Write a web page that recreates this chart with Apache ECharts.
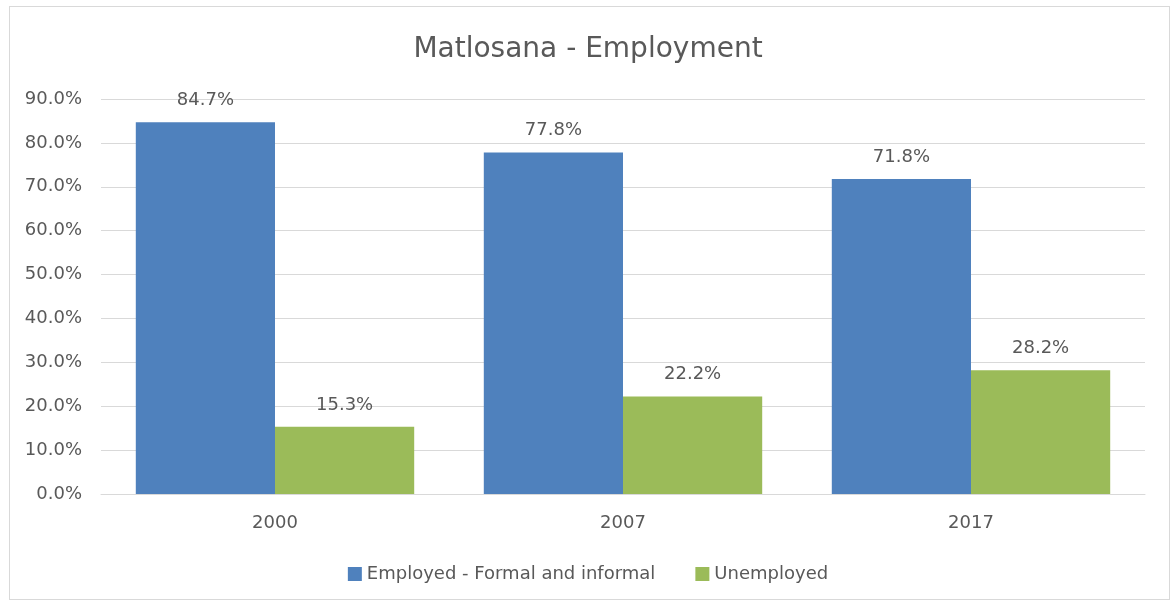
<!DOCTYPE html>
<html>
<head>
<meta charset="utf-8">
<script src="https://cdn.jsdelivr.net/npm/echarts@6/dist/echarts.min.js"></script>
<style>
  html, body { margin: 0; padding: 0; background: #fff; }
  #frame {
    position: absolute; left: 9px; top: 6px; width: 1159px; height: 592px;
    border: 1.5px solid #d9d9d9;
  }
  #chart { position: absolute; left: 0; top: 0; width: 1176px; height: 605px; }
</style>
</head>
<body>
<div id="frame"></div>
<div id="chart"></div>
<script>
const years = ['2000', '2007', '2017'];
const employed = [84.7, 77.8, 71.8];
const unemployed = [15.3, 22.2, 28.2];
const seriesNames = ['Employed - Formal and informal', 'Unemployed'];

const font = '"DejaVu Sans", sans-serif';
const textColor = '#595959';

const chart = echarts.init(document.getElementById('chart'));

const labelStyle = {
  show: true,
  position: 'top',
  distance: 13,
  color: textColor,
  fontFamily: font,
  fontSize: 18,
  formatter: (p) => p.value.toFixed(1) + '%',
};

chart.setOption({
  backgroundColor: 'transparent',
  animation: false,
  title: {
    text: 'Matlosana - Employment',
    left: 'center',
    top: 31,
    textStyle: { color: textColor, fontFamily: font, fontSize: 28, fontWeight: 'normal' },
  },
  legend: {
    data: seriesNames,
    bottom: 17,
    left: 'center',
    itemWidth: 14,
    itemHeight: 14,
    itemGap: 40,
    icon: 'rect',
    textStyle: { color: textColor, fontFamily: font, fontSize: 18 },
  },
  grid: { left: 101, right: 31, top: 99, bottom: 111, containLabel: false },
  xAxis: {
    type: 'category',
    data: years,
    axisLine: { show: true, lineStyle: { color: '#d9d9d9' } },
    axisTick: { show: false },
    axisLabel: { color: textColor, fontFamily: font, fontSize: 18, margin: 20 },
  },
  yAxis: {
    type: 'value',
    min: 0,
    max: 90,
    interval: 10,
    axisLine: { show: false },
    axisTick: { show: false },
    axisLabel: {
      color: textColor, fontFamily: font, fontSize: 18, margin: 19,
      formatter: (v) => v.toFixed(1) + '%',
    },
    splitLine: { lineStyle: { color: '#d9d9d9', width: 1 } },
  },
  series: [
    {
      name: seriesNames[0],
      type: 'bar',
      data: employed,
      barGap: '0%',
      barCategoryGap: '20%',
      itemStyle: { color: '#4f81bd' },
      label: labelStyle,
    },
    {
      name: seriesNames[1],
      type: 'bar',
      data: unemployed,
      itemStyle: { color: '#9bbb59' },
      label: labelStyle,
    },
  ],
});
</script>
</body>
</html>
